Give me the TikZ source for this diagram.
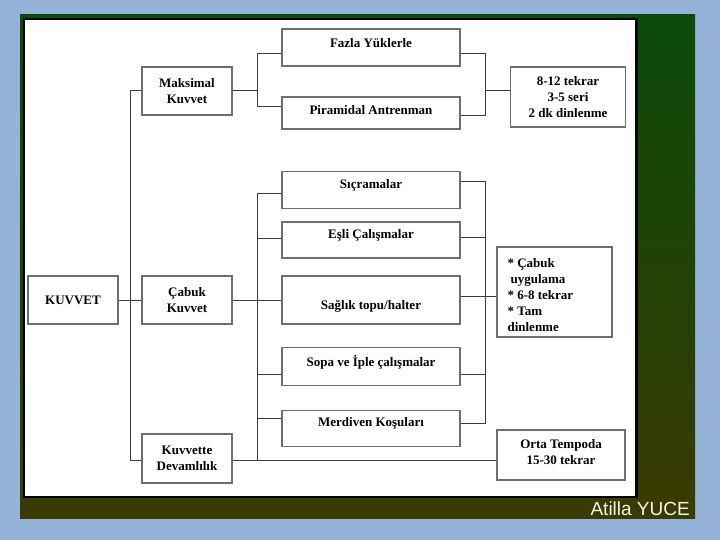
\documentclass[tikz,border=0pt]{standalone}
\usepackage{fontspec}
\setmainfont{Liberation Serif}
\newfontfamily\sigfont{Liberation Sans}
\definecolor{bgblue}{RGB}{149,179,215}
\definecolor{topgreen}{RGB}{10,74,10}
\definecolor{botolive}{RGB}{58,58,2}
\definecolor{boxgray}{RGB}{110,110,110}
\definecolor{linegray}{RGB}{60,60,60}
\definecolor{cream}{RGB}{245,245,230}
\tikzset{
  box/.style={draw=boxgray, line width=1.3pt, fill=white, inner sep=0pt,
    font=\fontsize{13}{16}\selectfont\bfseries, align=center, text=black},
  txt/.style={font=\fontsize{13}{16}\selectfont\bfseries, align=center, inner sep=0pt, text=black},
  conn/.style={draw=linegray, line width=1pt}
}
\begin{document}
\begin{tikzpicture}[x=1pt,y=-1pt]
\useasboundingbox (0,0) rectangle (720,540);
\fill[bgblue] (0,0) rectangle (720,540);
\shade[top color=topgreen, bottom color=botolive] (20,15) rectangle (695,518);
\draw[black, line width=2.5pt, fill=white] (24,19) rectangle (636.5,497);

% level 0
\node[box, minimum width=90pt, minimum height=48pt] (kuv) at (73,300) {KUVVET};
% level 1
\node[box, minimum width=90pt, minimum height=48pt] (maks) at (187,91) {Maksimal\\Kuvvet};
\node[box, minimum width=90pt, minimum height=48pt] (cab) at (187,300) {Çabuk\\Kuvvet};
\node[box, minimum width=90pt, minimum height=49pt] (dev) at (187,458.5) {Kuvvette\\Devamlılık};
% level 2
\node[box, minimum width=178pt, minimum height=37pt,
  label={[txt, yshift=4pt]center:Fazla Yüklerle}] (fazla) at (371,47.5) {};
\node[box, minimum width=178pt, minimum height=32pt,
  label={[txt, yshift=3pt]center:Piramidal Antrenman}] (pir) at (371,113) {};
\node[box, minimum width=178pt, minimum height=37pt,
  label={[txt, yshift=5pt]center:Sıçramalar}] (sic) at (371,190) {};
\node[box, minimum width=178pt, minimum height=36pt,
  label={[txt, yshift=5pt]center:Eşli Çalışmalar}] (esli) at (371,240) {};
\node[box, minimum width=178pt, minimum height=48pt,
  label={[txt, yshift=-6pt]center:Sağlık topu/halter}] (sag) at (371,300) {};
\node[box, minimum width=178pt, minimum height=38pt,
  label={[txt, yshift=4pt]center:Sopa ve İple çalışmalar}] (sopa) at (371,366.5) {};
\node[box, minimum width=178pt, minimum height=36pt,
  label={[txt, yshift=5pt]center:Merdiven Koşuları}] (merd) at (371,428.5) {};
% level 3
\node[box, minimum width=115pt, minimum height=60pt] (tek) at (568,97) {8-12 tekrar\\3-5 seri\\2 dk dinlenme};
\node[box, minimum width=115pt, minimum height=90pt,
  label={[txt, align=left, anchor=west, yshift=-3pt]west:{\hspace*{11pt}* Çabuk\\\hspace*{14pt}uygulama\\\hspace*{11pt}* 6-8 tekrar\\\hspace*{11pt}* Tam\\\hspace*{11pt}dinlenme}}] (note) at (554.5,292) {};
\node[box, minimum width=128pt, minimum height=50pt,
  label={[txt, yshift=3pt]center:Orta Tempoda\\15-30 tekrar}] (orta) at (561,455) {};

% bus coordinates
\coordinate (busA) at (130,0);
\coordinate (busB) at (257,0);
\coordinate (busC) at (485,0);

% main tree
\draw[conn] (kuv.east) -- (cab.west);
\draw[conn] (maks.west) -- (busA |- maks.west) -- (busA |- 0,460) -- (dev.west |- 0,460);
% maksimal group
\draw[conn] (maks.east) -- (busB |- maks.east);
\draw[conn] (fazla.west |- 0,54) -- (busB |- 0,54) -- (busB |- 0,107) -- (pir.west |- 0,107);
\draw[conn] (fazla.east |- 0,54) -- (busC |- 0,54) -- (busC |- 0,116) -- (pir.east |- 0,116);
\draw[conn] (busC |- 0,91) -- (tek.west |- 0,91);
% cabuk group
\draw[conn] (cab.east) -- (sag.west);
\draw[conn] (sic.west |- 0,194) -- (busB |- 0,194) -- (busB |- 0,460);
\draw[conn] (esli.west |- 0,238) -- (busB |- 0,238);
\draw[conn] (sopa.west |- 0,374) -- (busB |- 0,374);
\draw[conn] (merd.west |- 0,418) -- (busB |- 0,418);
\draw[conn] (sic.east |- 0,182) -- (busC |- 0,182) -- (busC |- 0,423) -- (merd.east |- 0,423);
\draw[conn] (esli.east |- 0,237) -- (busC |- 0,237);
\draw[conn] (sopa.east |- 0,374) -- (busC |- 0,374);
\draw[conn] (sag.east |- 0,296) -- (note.west |- 0,296);
% devamlilik
\draw[conn] (dev.east |- 0,460) -- (orta.west |- 0,460);

\node[anchor=base east, inner sep=0pt, font=\fontsize{19}{21}\selectfont\sigfont, text=cream] (sig) at (690,515) {Atilla YUCE};
\end{tikzpicture}
\end{document}
